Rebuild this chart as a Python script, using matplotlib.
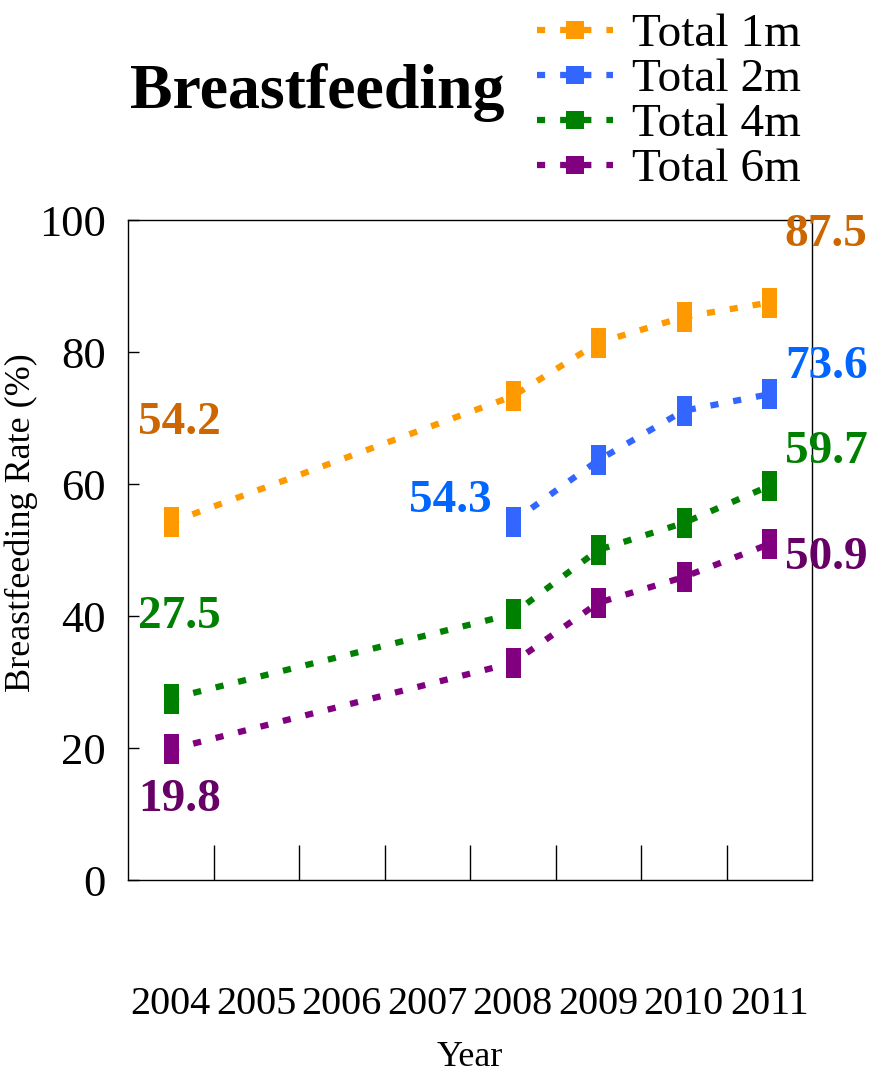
import numpy as np
import matplotlib
matplotlib.use('Agg')
import matplotlib.pyplot as plt
from matplotlib.lines import Line2D

plt.rcParams['font.family'] = ['Liberation Serif', 'DejaVu Serif']

# data (None = no survey that year)
years = ['2004', '2005', '2006', '2007', '2008', '2009', '2010', '2011']
total_1m = [54.2, None, None, None, 73.3, 81.4, 85.3, 87.5]
total_2m = [None, None, None, None, 54.3, 63.6, 71.1, 73.6]
total_4m = [27.5, None, None, None, 40.3, 50.0, 54.1, 59.7]
total_6m = [19.8, None, None, None, 32.9, 42.0, 45.9, 50.9]
series_names = ['Total 1m', 'Total 2m', 'Total 4m', 'Total 6m']
line_colors = ['#FF9900', '#3366FF', '#008000', '#800080']
label_colors = ['#CC6600', '#0066FF', '#008000', '#660066']

fig = plt.figure(figsize=(8.88, 10.76), dpi=100)
ax = fig.add_axes([128/888, 196/1076, 684/888, 660/1076])

rect = [(-0.25, -0.5), (0.25, -0.5), (0.25, 0.5), (-0.25, 0.5), (-0.25, -0.5)]
all_series = [total_1m, total_2m, total_4m, total_6m]
for vals, col in zip(all_series, line_colors):
    xs = [i for i, v in enumerate(vals) if v is not None]
    ys = [v for v in vals if v is not None]
    ax.plot(xs, ys, color=col, lw=4.5, ls=(0, (1.3, 2.4)), dash_capstyle='butt',
            marker=rect, markersize=21.6, markeredgewidth=0, zorder=3)

# value labels: (series index, point index, pixel offset)
callouts = [
    (0, 0, (9, 99)), (0, 7, (57, 67)),
    (1, 4, (-62, 21)), (1, 7, (57, 27)),
    (2, 0, (9, 81)), (2, 7, (57, 34)),
    (3, 0, (9, -51)), (3, 7, (57, -14)),
]
for s, i, off in callouts:
    v = all_series[s][i]
    ax.annotate(f'{v:.1f}', (i, v), xytext=off, textcoords='offset pixels',
                ha='center', va='center', fontsize=34, fontweight='bold',
                color=label_colors[s], annotation_clip=False)

ax.set_xlim(-0.5, len(years) - 0.5)
ax.set_ylim(0, 100)
ax.set_yticks(np.arange(0, 101, 20))
ax.tick_params(axis='y', direction='in', length=8, width=1, labelsize=32, pad=16)

# category boundaries get the ticks, labels sit at the centres
ax.set_xticks(np.arange(0.5, len(years) - 0.5, 1))
ax.set_xticklabels([])
ax.tick_params(axis='x', which='major', direction='in', length=25, width=1)
ax.set_xticks(np.arange(len(years)), minor=True)
ax.set_xticklabels(years, minor=True)
ax.tick_params(axis='x', which='minor', length=0, labelsize=29, pad=76)

for sp in ax.spines.values():
    sp.set_linewidth(1)

ax.set_xlabel('Year', fontsize=26, labelpad=13)
ax.set_ylabel('Breastfeeding Rate (%)', fontsize=26)
ax.yaxis.set_label_coords(-0.132, 0.542)

fig.text(130/888, 1 - 93/1076, 'Breastfeeding', fontsize=46, fontweight='bold',
         ha='left', va='center')

handles = [Line2D([], [], color=c, lw=4.5, ls=(0, (1.3, 2.4)), marker='s',
                  markersize=13, markeredgewidth=0) for c in line_colors]
fig.legend(handles, series_names, loc='upper right', bbox_to_anchor=(829/888, 1 + 15/1076),
           frameon=False, fontsize=34, labelspacing=0.04, handlelength=1.6,
           handletextpad=0.4, borderpad=0.1)

fig.savefig('out.png', dpi=100)
